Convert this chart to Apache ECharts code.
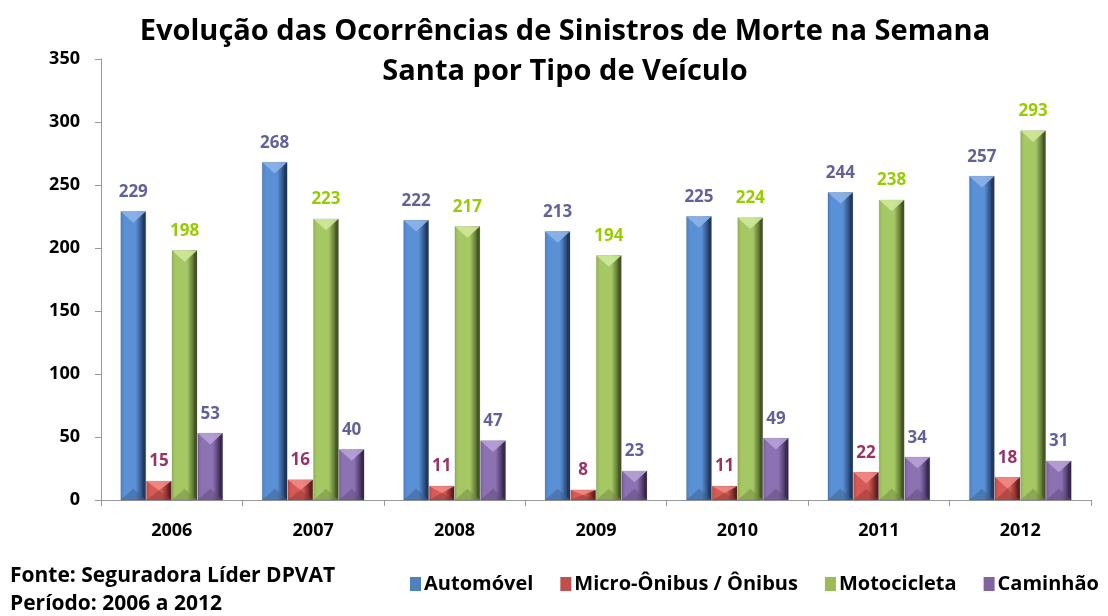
<!DOCTYPE html>
<html><head><meta charset="utf-8">
<script src="https://cdn.jsdelivr.net/npm/echarts@6/dist/echarts.min.js"></script>
<style>html,body{margin:0;padding:0;background:#fff}#c{width:1108px;height:616px}</style>
</head><body><div id="c"></div>
<script>
const years = ['2006','2007','2008','2009','2010','2011','2012'];
const automovel = [229,268,222,213,225,244,257];
const microOnibus = [15,16,11,8,11,22,18];
const motocicleta = [198,223,217,194,224,238,293];
const caminhao = [53,40,47,23,49,34,31];
const yTicks = {min:0, max:350, interval:50};

const FONT = '"Open Sans", Lato, sans-serif';
const palettes = [
  {base:'#4f81bd', l:'#4b7fc2', m:'#5a90d6', r:'#2c4c7c', top:'#8db4e8', bot:'#3a6090', label:'#62629a'},
  {base:'#c0504d', l:'#c04a46', m:'#d65a55', r:'#7c2c2a', top:'#f08a86', bot:'#903a38', label:'#993366'},
  {base:'#9bbb59', l:'#93b552', m:'#a6c864', r:'#5d7433', top:'#cfe89a', bot:'#71883f', label:'#99cc00'},
  {base:'#8064a2', l:'#7a5e9e', m:'#8d72b3', r:'#4b3866', top:'#b7a1d6', bot:'#5e4a7a', label:'#62629a'}
];
const N = 4, GAP = 0.03, CAT_FILL = 0.72;
function makeRender(si){
  const p = palettes[si];
  return function(params, api){
    const idx = api.value(0), val = api.value(1);
    const base = api.coord([idx, 0]);
    const top = api.coord([idx, val]);
    const band = api.size([1, 0])[0];
    const gw = band * CAT_FILL;
    const bw = gw / (N + (N - 1) * GAP);
    const x0 = base[0] - gw / 2 + si * bw * (1 + GAP);
    const x1 = x0 + bw, xc = (x0 + x1) / 2;
    const y0 = top[1], y1 = base[1], h = y1 - y0;
    const t = Math.min(bw * 0.45, h / 2);
    const e = Math.min(3, bw / 6);
    return {type:'group', children:[
      {type:'rect', shape:{x:x0, y:y0, width:bw, height:h},
        style:{fill:new echarts.graphic.LinearGradient(0,0,1,0,[
          {offset:0,color:p.l},{offset:0.15,color:p.m},{offset:0.6,color:p.m},{offset:0.85,color:p.r},{offset:1,color:p.r}]),
          stroke:'rgba(0,0,0,0.25)', lineWidth:0.5}},
      {type:'polygon', shape:{points:[[x0,y0],[x1,y0],[xc,y0+t]]}, style:{fill:p.top, opacity:0.9}},
      {type:'polygon', shape:{points:[[x0,y1],[x1,y1],[xc,y1-t]]}, style:{fill:p.bot, opacity:0.5}},
      {type:'polygon', shape:{points:[[x1,y0],[x1,y1],[x1-e,y1-e],[x1-e,y0+e]]}, style:{fill:'rgba(0,0,0,0.25)'}},
      {type:'text', style:{text:String(val), x:xc, y:y0-11, align:'center', verticalAlign:'bottom',
        fill:p.label, font:'bold 17px '+FONT}}
    ]};
  };
}
function ser(name, data, si){
  return {name, type:'custom', renderItem:makeRender(si), encode:{x:0, y:1},
    itemStyle:{color:palettes[si].base},
    data:data.map((v,i)=>[i, v])};
}
const chart = echarts.init(document.getElementById('c'));
chart.setOption({
  backgroundColor:'#fff',
  animation:false,
  title:{text:'Evolução das Ocorrências de Sinistros de Morte na Semana\nSanta por Tipo de Veículo',
    left:560, textAlign:'center', top:7,
    textStyle:{fontFamily:FONT, fontWeight:'bold', fontSize:29, color:'#000', lineHeight:40}},
  graphic:[{type:'text', left:10, top:562, style:{text:'Fonte: Seguradora Líder DPVAT\nPeríodo: 2006 a 2012',
    font:'bold 21px '+FONT, fill:'#000', lineHeight:28}}],
  legend:{bottom:17, left:405, itemWidth:11, itemHeight:14, itemGap:27, icon:'rect',
    textStyle:{fontFamily:FONT, fontWeight:'bold', fontSize:20, color:'#000', padding:[0,0,0,-2]}},
  grid:{left:101, right:17, top:59, bottom:116},
  xAxis:{type:'category', data:years,
    axisLine:{lineStyle:{color:'#999'}}, axisTick:{show:true, length:6, lineStyle:{color:'#999'}},
    axisLabel:{margin:22, color:'#000', fontFamily:FONT, fontWeight:'bold', fontSize:18}},
  yAxis:{type:'value', min:yTicks.min, max:yTicks.max, interval:yTicks.interval,
    axisLine:{show:true, lineStyle:{color:'#999'}}, axisTick:{show:true, length:6, lineStyle:{color:'#999'}},
    splitLine:{show:false},
    axisLabel:{margin:21, color:'#000', fontFamily:FONT, fontWeight:'bold', fontSize:18}},
  series:[
    ser('Automóvel', automovel, 0),
    ser('Micro-Ônibus / Ônibus', microOnibus, 1),
    ser('Motocicleta', motocicleta, 2),
    ser('Caminhão', caminhao, 3)
  ]
});
</script></body></html>
